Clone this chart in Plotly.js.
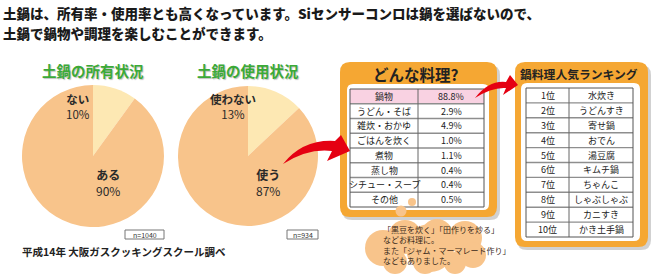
<!DOCTYPE html>
<html><head><meta charset="utf-8">
<script src="https://cdn.plot.ly/plotly-3.0.1.min.js"></script>
<style>html,body{margin:0;padding:0;background:#fff}#c{width:660px;height:276px}</style>
</head><body><div id="c"></div>
<script>
// ---- data ----
const headline = ['土鍋は、所有率・使用率とも高くなっています。Siセンサーコンロは鍋を選ばないので、','土鍋で鍋物や調理を楽しむことができます。'];
const ownTitle = '土鍋の所有状況';
const ownLabels = ['ない','ある'];
const ownValues = [10, 90];
const ownN = 'n=1040';
const useTitle = '土鍋の使用状況';
const useLabels = ['使わない','使う'];
const useValues = [13, 87];
const useN = 'n=934';
const source = '平成14年 大阪ガスクッキングスクール調べ';
const dishTitle = 'どんな料理?';
const dishNames = ['鍋物','うどん・そば','雑炊・おかゆ','ごはんを炊く','煮物','蒸し物','シチュー・スープ','その他'];
const dishPct = [88.8, 2.9, 4.9, 1.0, 1.1, 0.4, 0.4, 0.5];
const rankTitle = '鍋料理人気ランキング';
const rankNo = ['1位','2位','3位','4位','5位','6位','7位','8位','9位','10位'];
const rankDish = ['水炊き','うどんすき','寄せ鍋','おでん','湯豆腐','キムチ鍋','ちゃんこ','しゃぶしゃぶ','カニすき','かき土手鍋'];
const noteLines = ['「黒豆を炊く」「田作りを炒る」','などお料理に。','また「ジャム・マーマレード作り」','などもありました。'];

// ---- helpers (pixel -> paper) ----
const W = 660, H = 276;
const X = x => x / W, Y = y => 1 - y / H;
const FONT = "'Noto Sans CJK JP', 'Noto Sans CJK SC', sans-serif";
function rr(x0, y0, x1, y1, r) {
  return `M ${X(x0+r)} ${Y(y0)} L ${X(x1-r)} ${Y(y0)} Q ${X(x1)} ${Y(y0)} ${X(x1)} ${Y(y0+r)} L ${X(x1)} ${Y(y1-r)} Q ${X(x1)} ${Y(y1)} ${X(x1-r)} ${Y(y1)} L ${X(x0+r)} ${Y(y1)} Q ${X(x0)} ${Y(y1)} ${X(x0)} ${Y(y1-r)} L ${X(x0)} ${Y(y0+r)} Q ${X(x0)} ${Y(y0)} ${X(x0+r)} ${Y(y0)} Z`;
}
function pth(cmds) {
  return cmds.map(c => c[0] + ' ' + c.slice(1).map((v, i) => i % 2 === 0 ? X(v) : Y(v)).join(' ')).join(' ') + ' Z';
}
function circ(cx, cy, r, color) {
  return {type:'circle', xref:'paper', yref:'paper', x0:X(cx-r), x1:X(cx+r), y0:Y(cy+r), y1:Y(cy-r), fillcolor:color, line:{width:0}, layer:'above'};
}
function ann(x, y, text, size, color, opts) {
  return Object.assign({xref:'paper', yref:'paper', x:X(x), y:Y(y), text:text, showarrow:false, borderpad:0,
    font:{family:FONT, size:size, color:color}, xanchor:'center', yanchor:'middle'}, opts || {});
}
function line(x0, y0, x1, y1, color, w) {
  return {type:'line', xref:'paper', yref:'paper', x0:X(x0), y0:Y(y0), x1:X(x1), y1:Y(y1), line:{color:color, width:w}, layer:'above'};
}
// slice label: bold name over percentage, one text block
function sliceLabel(x, y, name, value, size) {
  return ann(x, y, `<b>${name}</b><br>${value}%`, size, '#2a2a2a');
}

const PEACH = '#F8C48B', CREAM = '#FDE8B3', ORANGE = '#F5A733', RED = '#E50012';

const traces = [
  {type:'pie', labels:ownLabels, values:ownValues, sort:false, direction:'counterclockwise', rotation:0,
   marker:{colors:[CREAM, PEACH], line:{width:0}}, textinfo:'none', hoverinfo:'skip', showlegend:false,
   domain:{x:[X(22), X(164)], y:[Y(227), Y(85)]}},
  {type:'pie', labels:useLabels, values:useValues, sort:false, direction:'counterclockwise', rotation:0,
   marker:{colors:[CREAM, PEACH], line:{width:0}}, textinfo:'none', hoverinfo:'skip', showlegend:false,
   domain:{x:[X(178), X(318)], y:[Y(226), Y(86)]}}
];

const shapes = [
  {type:'path', xref:'paper', yref:'paper', path:rr(342, 65, 500, 220, 10), fillcolor:'rgba(0,0,0,0.18)', line:{width:0}, layer:'below'},
  {type:'path', xref:'paper', yref:'paper', path:rr(517, 65, 651, 250, 10), fillcolor:'rgba(0,0,0,0.18)', line:{width:0}, layer:'below'},
  {type:'path', xref:'paper', yref:'paper', path:rr(340, 62, 497, 217, 10), fillcolor:ORANGE, line:{width:0}, layer:'below'},
  {type:'path', xref:'paper', yref:'paper', path:rr(347, 84, 489, 210, 6), fillcolor:'#ffffff', line:{width:0}, layer:'below'},
  {type:'path', xref:'paper', yref:'paper', path:rr(515, 62, 648, 247, 10), fillcolor:ORANGE, line:{width:0}, layer:'below'},
  {type:'path', xref:'paper', yref:'paper', path:rr(521, 83, 640, 241, 6), fillcolor:'#ffffff', line:{width:0}, layer:'below'},
  {type:'rect', xref:'paper', yref:'paper', x0:X(125), x1:X(164), y0:Y(239), y1:Y(230), fillcolor:'#fff', line:{color:'#777', width:1}, layer:'above'},
  {type:'rect', xref:'paper', yref:'paper', x0:X(287), x1:X(318), y0:Y(239), y1:Y(230), fillcolor:'#fff', line:{color:'#777', width:1}, layer:'above'}
];

const annotations = [
  ann(2, 13, headline[0], 13.5, '#1a1a1a', {xanchor:'left', font:{family:FONT, size:13.5, color:'#1a1a1a', weight:900}}),
  ann(2, 33, headline[1], 13.5, '#1a1a1a', {xanchor:'left', font:{family:FONT, size:13.5, color:'#1a1a1a', weight:900}}),
  ann(93, 70, '<b>' + ownTitle + '</b>', 14.5, '#3BAA37', {font:{family:FONT, size:14.5, color:'#3BAA37', shadow:'1px 1px 1px rgba(0,0,0,0.25)'}}),
  ann(248, 70, '<b>' + useTitle + '</b>', 14.5, '#3BAA37', {font:{family:FONT, size:14.5, color:'#3BAA37', shadow:'1px 1px 1px rgba(0,0,0,0.25)'}}),
  sliceLabel(77.5, 107, ownLabels[0], ownValues[0], 11.5),
  sliceLabel(108, 182, ownLabels[1], ownValues[1], 12),
  sliceLabel(232.5, 107, useLabels[0], useValues[0], 11.5),
  sliceLabel(267.5, 182, useLabels[1], useValues[1], 12),
  ann(144.5, 234.5, ownN, 7, '#333'),
  ann(302.5, 234.5, useN, 7, '#333'),
  ann(21, 252, '<b>' + source + '</b>', 10.5, '#222', {xanchor:'left'}),
  ann(416, 74, '<b>' + dishTitle + '</b>', 15.5, '#222'),
  ann(579, 73, '<b>' + rankTitle + '</b>', 11.8, '#222')
];

// ---- tables drawn from the arrays ----
function table(x0, xMid, x1, y0, y1, col1, col2, fills) {
  const n = col1.length, h = (y1 - y0) / n;
  col1.forEach((t, i) => {
    const top = y0 + i * h;
    if (fills && fills[i]) shapes.push({type:'rect', xref:'paper', yref:'paper', x0:X(x0), x1:X(x1), y0:Y(top + h), y1:Y(top), fillcolor:fills[i], line:{width:0}, layer:'above'});
    annotations.push(ann((x0 + xMid) / 2, top + h / 2, t, 9, '#222'));
    annotations.push(ann((xMid + x1) / 2, top + h / 2, col2[i], 9, '#222'));
  });
  for (let i = 1; i < n; i++) shapes.push(line(x0, y0 + i * h, x1, y0 + i * h, '#8e8e8e', 1.4));
  shapes.push(line(xMid, y0, xMid, y1, '#666', 1));
  shapes.push({type:'rect', xref:'paper', yref:'paper', x0:X(x0), x1:X(x1), y0:Y(y1), y1:Y(y0), line:{color:'#555', width:1}, layer:'above'});
}
table(350, 418, 484, 89, 207, dishNames, dishPct.map(v => v.toFixed(1) + '%'), dishNames.map((d, i) => i === 0 ? '#F9D2E2' : null));
table(526, 569, 633, 88, 237, rankNo, rankDish, null);

// arrows
shapes.push({type:'path', xref:'paper', yref:'paper', layer:'above', fillcolor:RED, line:{width:0},
  path:pth([['M',283,164],['Q',303,139,335,141],['L',341,135],['L',350,151],['L',327,161],['L',332,151],['Q',308,148,283,164]])});
shapes.push({type:'path', xref:'paper', yref:'paper', layer:'above', fillcolor:RED, line:{width:0},
  path:pth([['M',475,98],['Q',489,80,506,82],['L',510,75],['L',518,85],['L',503,95],['L',506,88],['Q',492,87,475,98]])});
// cloud
[[412,202,4],[401,211,5.5],[383,248,18],[405,237,17],[437,235,16],[465,238,17],[473,255,13],[455,263,11],[425,262,12],[395,262,12],[430,248,24]]
  .forEach(c => shapes.push(circ(c[0], c[1], c[2], PEACH)));
annotations.push(ann(382, 245, noteLines.join('<br>'), 8, '#3a2a1a', {xanchor:'left', align:'left'}));

const layout = {width:W, height:H, margin:{l:0, r:0, t:0, b:0}, paper_bgcolor:'#fff', plot_bgcolor:'#fff',
  showlegend:false, shapes:shapes, annotations:annotations, font:{family:FONT}};
Plotly.newPlot('c', traces, layout, {staticPlot:true, displayModeBar:false});
</script></body></html>
